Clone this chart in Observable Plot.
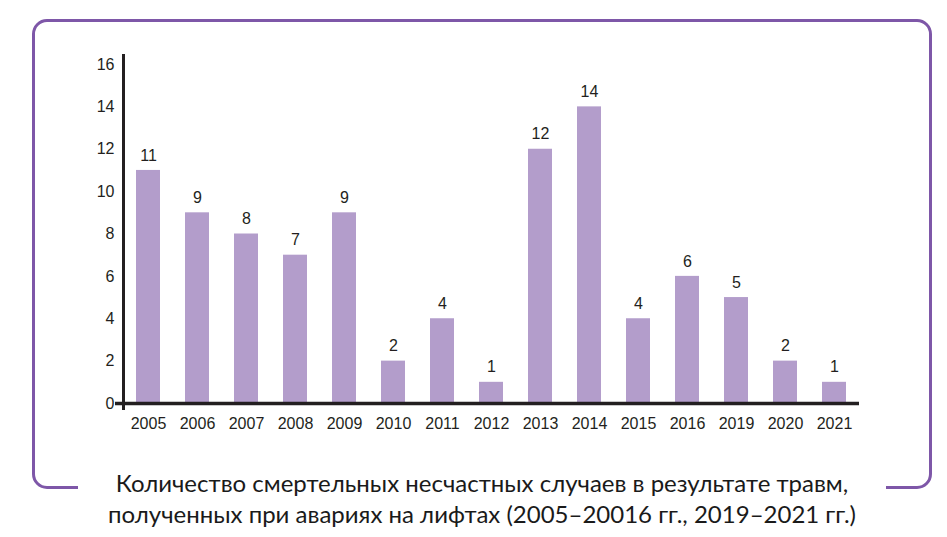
<!DOCTYPE html>
<html>
<head>
<meta charset="utf-8">
<script src="https://cdn.jsdelivr.net/npm/d3@7"></script>
<script src="https://cdn.jsdelivr.net/npm/@observablehq/plot@0.6"></script>
<style>
  html, body { margin: 0; padding: 0; background: #ffffff; }
  #wrap { position: relative; width: 947px; height: 537px; overflow: hidden; }
  #frame {
    position: absolute; left: 32px; top: 18.5px; width: 894px; height: 464px;
    border: 3px solid #7e57a8; border-radius: 15px; box-sizing: content-box;
  }
  #chart { position: absolute; left: 0; top: 0; }
  #caption {
    position: absolute; left: 78px; width: 808px; top: 467px;
    background: #ffffff; text-align: center;
    font-family: Lato, "Open Sans", sans-serif; font-size: 24px; line-height: 31px;
    color: #1a1a1a;
  }
</style>
</head>
<body>
<div id="wrap">
  <div id="frame"></div>
  <div id="chart"></div>
  <div id="caption">Количество смертельных несчастных случаев в результате травм,<br>полученных при авариях на лифтах (2005–20016 гг., 2019–2021 гг.)</div>
</div>
<script>
const years = ["2005","2006","2007","2008","2009","2010","2011","2012","2013","2014","2015","2016","2019","2020","2021"];
const deaths = [11, 9, 8, 7, 9, 2, 4, 1, 12, 14, 4, 6, 5, 2, 1];
const yTicks = [0, 2, 4, 6, 8, 10, 12, 14, 16];

const data = years.map((year, i) => ({year, value: deaths[i]}));

const chart = Plot.plot({
  width: 947,
  height: 450,
  marginTop: 64,
  marginBottom: 47,
  marginLeft: 123,
  marginRight: 88,
  style: {fontFamily: "'Liberation Sans', Arial, sans-serif", fontSize: "16px", color: "#231f20", background: "transparent"},
  x: {domain: years, paddingInner: 0.52, paddingOuter: 0.26, label: null},
  y: {domain: [0, 16], label: null},
  marks: [
    Plot.barY(data, {x: "year", y: "value", fill: "#b39dcb"}),
    Plot.text(data, {x: "year", y: "value", text: d => String(d.value), dy: -15, fontSize: 16, fill: "#231f20"}),
    Plot.axisY({ticks: yTicks, tickSize: 0, tickPadding: 9, fontSize: 16, label: null}),
    Plot.axisX({tickSize: 0, tickPadding: 14, fontSize: 16, label: null}),
    Plot.frame({anchor: "left", stroke: "#231f20", strokeWidth: 3, insetTop: -9, insetBottom: -5}),
    Plot.ruleY([0], {stroke: "#231f20", strokeWidth: 3.3, insetLeft: -8})
  ]
});
document.getElementById("chart").appendChild(chart);
</script>
</body>
</html>
